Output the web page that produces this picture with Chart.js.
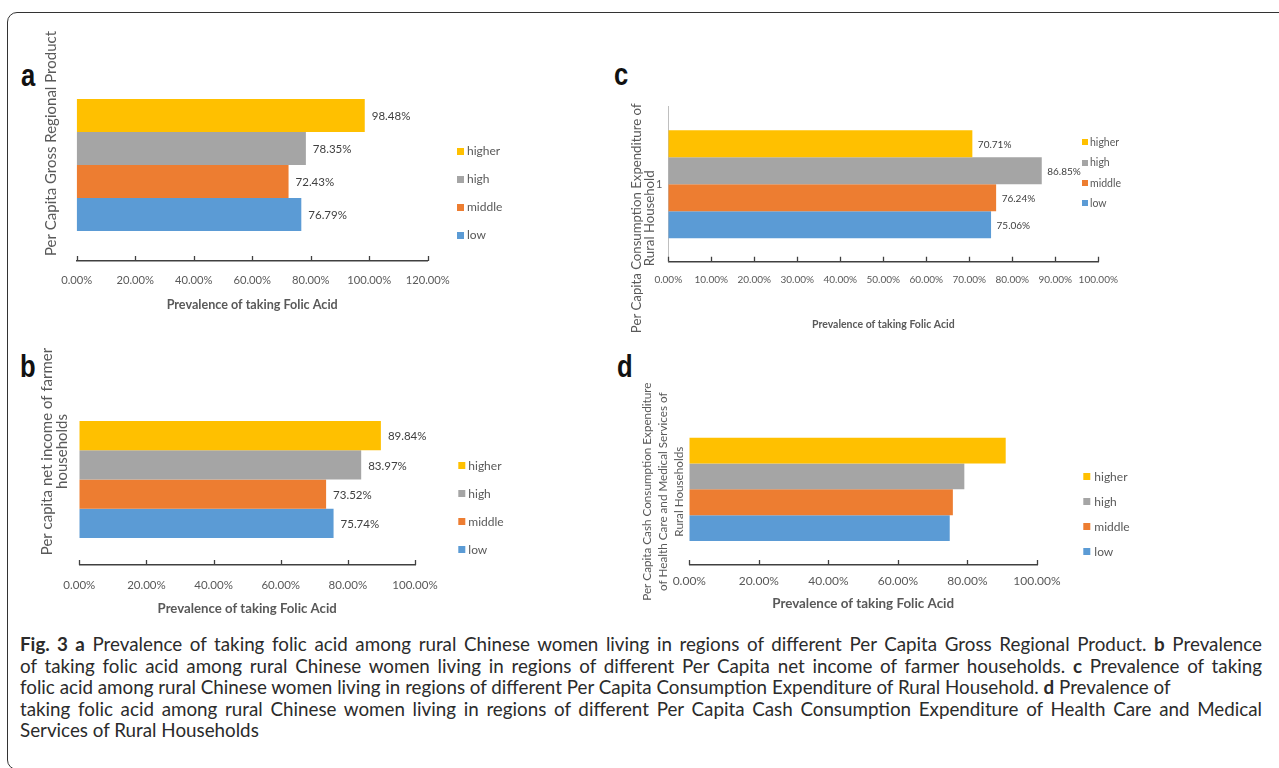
<!DOCTYPE html>
<html>
<head>
<meta charset="utf-8">
<script src="https://cdn.jsdelivr.net/npm/chart.js@4.4.1/dist/chart.umd.min.js"></script>
<style>
  html, body { margin: 0; padding: 0; background: #fff; }
  body { width: 1279px; height: 768px; position: relative; overflow: hidden; font-family: Lato, sans-serif; }
  .frame { position: absolute; left: 7px; top: 12px; width: 1300px; height: 758px; border: 1.5px solid #333; border-radius: 10px; box-sizing: border-box; }
  .letter { position: absolute; font: bold 32px "Liberation Sans", Arial, sans-serif; line-height: 32px; color: #111; transform: scaleX(0.8); transform-origin: left top; }
  canvas { position: absolute; }
  .caption { position: absolute; left: 20px; top: 633px; width: 1242px; font-size: 18.8px; line-height: 21.5px; color: #2b2b2b; }
  .caption div { white-space: nowrap; text-align: justify; text-align-last: justify; }
  .caption div.rag { text-align-last: left; }
</style>
</head>
<body>
<div class="frame"></div>

<div class="letter" style="left:21px; top:59px;">a</div>
<div class="letter" style="left:20px; top:350px;">b</div>
<div class="letter" style="left:614px; top:58px;">c</div>
<div class="letter" style="left:617px; top:350px;">d</div>

<canvas id="panelA" width="540" height="300" style="left:36px; top:20px;"></canvas>
<canvas id="panelB" width="540" height="290" style="left:36px; top:330px;"></canvas>
<canvas id="panelC" width="655" height="250" style="left:620px; top:90px;"></canvas>
<canvas id="panelD" width="520" height="240" style="left:630px; top:375px;"></canvas>

<div class="caption">
  <div><b>Fig. 3 a</b> Prevalence of taking folic acid among rural Chinese women living in regions of different Per Capita Gross Regional Product. <b>b</b> Prevalence</div>
  <div>of taking folic acid among rural Chinese women living in regions of different Per Capita net income of farmer households. <b>c</b> Prevalence of taking</div>
  <div class="rag">folic acid among rural Chinese women living in regions of different Per Capita Consumption Expenditure of Rural Household. <b>d</b> Prevalence of</div>
  <div>taking folic acid among rural Chinese women living in regions of different Per Capita Cash Consumption Expenditure of Health Care and Medical</div>
  <div class="rag">Services of Rural Households</div>
</div>

<script>
const categories = ['1'];
const levels = ['higher', 'high', 'middle', 'low'];
const levelColors = ['#FFC000', '#A5A5A5', '#ED7D31', '#5B9BD5'];

// prevalence of taking folic acid (%), one value per level
const grpValues = [98.48, 78.35, 72.43, 76.79];
const incomeValues = [89.84, 83.97, 73.52, 75.74];
const consumptionValues = [70.71, 86.85, 76.24, 75.06];
const healthValues = [91.0, 79.1, 75.8, 74.9]; // no labels in panel d

const ticksA = [0, 20, 40, 60, 80, 100, 120];
const ticksB = [0, 20, 40, 60, 80, 100];
const ticksC = [0, 10, 20, 30, 40, 50, 60, 70, 80, 90, 100];
const ticksD = [0, 20, 40, 60, 80, 100];

const xTitle = 'Prevalence of taking Folic Acid';

Chart.defaults.font.family = 'Lato, sans-serif';

// excel style tick marks that point up into the plot
const innerTicks = {
  id: 'innerTicks',
  afterDraw(chart) {
    const x = chart.scales.x;
    const ctx = chart.ctx;
    ctx.save();
    ctx.strokeStyle = '#404040';
    ctx.lineWidth = 1.3;
    ctx.beginPath();
    x.ticks.forEach(t => {
      const px = Math.round(x.getPixelForValue(t.value)) + 0.5;
      ctx.moveTo(px, x.top);
      ctx.lineTo(px, x.top - 5);
    });
    ctx.stroke();
    ctx.restore();
  }
};

const barLabels = {
  id: 'barLabels',
  afterDatasetsDraw(chart, args, o) {
    if (!o.show) return;
    const ctx = chart.ctx;
    ctx.save();
    ctx.font = o.size + 'px Lato';
    ctx.fillStyle = '#404040';
    ctx.textBaseline = 'middle';
    chart.data.datasets.forEach((ds, i) => {
      chart.getDatasetMeta(i).data.forEach((bar, j) => {
        ctx.fillText(ds.data[j].toFixed(2) + '%', bar.x + o.gap, bar.y + 1);
      });
    });
    ctx.restore();
  }
};

// rotated y title, may be several lines
const sideTitle = {
  id: 'sideTitle',
  afterDraw(chart, args, o) {
    const ctx = chart.ctx;
    ctx.save();
    ctx.font = o.size + 'px Lato';
    ctx.fillStyle = '#595959';
    ctx.textAlign = 'center';
    ctx.textBaseline = 'middle';
    o.lines.forEach((line, i) => {
      ctx.save();
      ctx.translate(o.x + i * o.gap, o.y);
      ctx.rotate(-Math.PI / 2);
      ctx.fillText(line, 0, 0);
      ctx.restore();
    });
    ctx.restore();
  }
};

const sideLegend = {
  id: 'sideLegend',
  afterDraw(chart, args, o) {
    const ctx = chart.ctx;
    ctx.save();
    ctx.font = o.size + 'px Lato';
    ctx.textBaseline = 'middle';
    chart.data.datasets.forEach((ds, i) => {
      const y = o.top + i * o.step;
      ctx.fillStyle = ds.backgroundColor;
      ctx.fillRect(o.x, Math.round(y - o.box / 2), o.box, o.box);
      ctx.fillStyle = '#595959';
      ctx.fillText(ds.label, o.x + o.box + o.space, y + 0.5);
    });
    ctx.restore();
  }
};

function makePanel(id, values, p) {
  const yWidth = p.yWidth || 0;
  return new Chart(document.getElementById(id), {
    type: 'bar',
    data: {
      labels: categories,
      datasets: levels.map((name, i) => ({
        label: name,
        data: [values[i]],
        backgroundColor: levelColors[i],
        borderWidth: 0,
        barPercentage: 1,
        categoryPercentage: p.band
      }))
    },
    options: {
      indexAxis: 'y',
      responsive: false,
      animation: false,
      layout: { padding: p.pad },
      plugins: {
        legend: { display: false },
        tooltip: { enabled: false },
        barLabels: p.labels,
        sideTitle: p.yTitle,
        sideLegend: p.legend
      },
      scales: {
        x: {
          min: p.ticks[0],
          max: p.ticks[p.ticks.length - 1],
          afterFit: s => { s.height = p.xHeight; },
          grid: { display: false, drawTicks: false },
          border: { display: true, color: '#404040', width: 1.5 },
          ticks: {
            stepSize: p.ticks[1] - p.ticks[0],
            autoSkip: false,
            maxRotation: 0,
            padding: p.tickPad,
            color: '#595959',
            font: { size: p.tickSize },
            callback: v => v.toFixed(2) + '%'
          },
          title: {
            display: true,
            text: xTitle,
            color: '#595959',
            font: { size: p.titleSize, weight: 'bold' },
            padding: { top: 0, bottom: p.titlePad }
          }
        },
        y: {
          display: yWidth > 0,
          afterFit: s => { s.width = yWidth; },
          grid: { display: false, drawTicks: false },
          border: { display: true, color: '#BFBFBF', width: 1 },
          ticks: { color: '#595959', font: { size: 11 }, padding: 6 }
        }
      }
    },
    plugins: [innerTicks, barLabels, sideTitle, sideLegend]
  });
}

makePanel('panelA', grpValues, {
  pad: { left: 40.7, right: 148.3, top: 49, bottom: 0 },
  xHeight: 59, band: 0.6875,
  ticks: ticksA, tickSize: 11.2, tickPad: 13,
  titleSize: 12.6, titlePad: 7.4,
  labels: { show: true, size: 11.5, gap: 7 },
  yTitle: { lines: ['Per Capita Gross Regional Product'], x: 15, y: 143.5 - 20, gap: 0, size: 15 },
  legend: { x: 421, top: 131, step: 28, box: 7, space: 3, size: 12 }
});

makePanel('panelB', incomeValues, {
  pad: { left: 43.3, right: 161, top: 64, bottom: 0 },
  xHeight: 55, band: 0.684,
  ticks: ticksB, tickSize: 11.5, tickPad: 13.8,
  titleSize: 13.2, titlePad: 3.4,
  labels: { show: true, size: 11.5, gap: 7 },
  yTitle: { lines: ['Per capita net income of farmer', 'households'], x: 11.3, y: 121.5, gap: 14.7, size: 15 },
  legend: { x: 422.3, top: 135.7, step: 27.9, box: 7, space: 3, size: 12 }
});

makePanel('panelC', consumptionValues, {
  pad: { left: 28.3, right: 176.7, top: 16.7, bottom: 0 },
  yWidth: 20, xHeight: 78.3, band: 0.697,
  ticks: ticksC, tickSize: 10, tickPad: 11.6,
  titleSize: 10.5, titlePad: 9.4,
  labels: { show: true, size: 10, gap: 5.5 },
  yTitle: { lines: ['Per Capita Consumption Expenditure of', 'Rural Household'], x: 16.7, y: 128.3, gap: 12.6, size: 13.2 },
  legend: { x: 462, top: 52.3, step: 20.3, box: 6, space: 2, size: 10.5 }
});

makePanel('panelD', healthValues, {
  pad: { left: 59.3, right: 113, top: 38.7, bottom: 0 },
  xHeight: 50, band: 0.683,
  ticks: ticksD, tickSize: 12, tickPad: 8.8,
  titleSize: 13.4, titlePad: 3.6,
  labels: { show: false },
  yTitle: {
    lines: ['Per Capita Cash Consumption Expenditure', 'of Health Care and Medical Services of', 'Rural Households'],
    x: 17.7, y: 116.7, gap: 15.6, size: 11.7
  },
  legend: { x: 453.3, top: 101.7, step: 25, box: 7, space: 4, size: 12 }
});
</script>
</body>
</html>
